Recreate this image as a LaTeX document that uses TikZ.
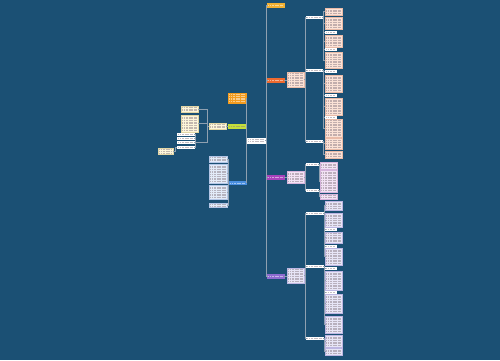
\documentclass[tikz,border=0pt]{standalone}
\usetikzlibrary{calc}
\definecolor{bg}{HTML}{1B5074}
\definecolor{lc}{HTML}{8FA0B0}
\definecolor{pinkf}{HTML}{FBE2D6}
\definecolor{pinkd}{HTML}{E9BBA8}
\definecolor{purf}{HTML}{F2E2F4}
\definecolor{purd}{HTML}{D6B4DC}
\definecolor{lavf}{HTML}{E7E5F6}
\definecolor{lavd}{HTML}{BDB6E2}
\definecolor{bluf}{HTML}{E3EBF8}
\definecolor{blud}{HTML}{B4C6E6}
\definecolor{crf}{HTML}{FDF6DA}
\definecolor{crd}{HTML}{E3D7A6}
\definecolor{txd}{HTML}{8A7C86}
\definecolor{cY}{HTML}{F2B134}
\definecolor{cO}{HTML}{EE6A2F}
\definecolor{cP}{HTML}{A843BC}
\definecolor{cL}{HTML}{8E6CD0}
\definecolor{cOR}{HTML}{F39C1F}
\definecolor{cG}{HTML}{C5DE3A}
\definecolor{cB}{HTML}{4A8FE0}
\tikzset{
  box/.style={rectangle, inner sep=0pt, outer sep=0pt, line width=0.3pt},
  pinkleaf/.style={box, fill=pinkf, draw=pinkd},
  purleaf/.style={box, fill=purf, draw=purd},
  lavleaf/.style={box, fill=lavf, draw=lavd},
  bluleaf/.style={box, fill=bluf, draw=blud},
  creamleaf/.style={box, fill=crf, draw=crd},
  whitelabel/.style={box, fill=white, draw=white},
  colnode/.style={box, fill=#1, draw=#1},
  tline/.style={line width=0.4pt, opacity=0.5, line cap=butt,
    dash pattern=on 1.1pt off 0.4pt on 1.6pt off 0.5pt on 0.8pt off 0.4pt on 1.3pt off 0.5pt},
  conn/.style={line width=0.55pt, draw=lc},
}
% name, x1, y1, x2, y2, style, text colour
\newcommand\bx[7]{%
  \node[#6, anchor=north west, minimum width={(#4-#2)*1pt}, minimum height={(#5-#3)*1pt}] (#1) at (#2,#3) {};
  \pgfmathtruncatemacro\bxn{max(1,floor((#5-#3-0.8)/1.7))}%
  \pgfmathsetmacro\bxg{(#5-#3)/(\bxn+1)}%
  \foreach \i in {1,...,\bxn}{\draw[tline,draw=#7] ($(#1.north west)+(1.2,\i*\bxg)$) -- ($(#1.north east)+(-1.2,\i*\bxg)$);}%
}
\begin{document}
\begin{tikzpicture}[x=1pt,y=-1pt]
\fill[bg] (0,0) rectangle (500,360);
\useasboundingbox (0,0) rectangle (500,360);

% central node
\bx{C}{247}{138}{265}{143}{whitelabel}{txd}

% right branches
\bx{Y1}{267}{3}{284}{7}{colnode=cY}{white}
\bx{O}{267}{78}{284}{82}{colnode=cO}{white}
\bx{P}{267}{175}{284}{179}{colnode=cP}{white}
\bx{L}{267}{274}{284}{278}{colnode=cL}{white}

% orange branch
\bx{OP}{287}{72}{304}{87}{pinkleaf}{txd}
\bx{OL1}{306}{16.5}{322}{18.5}{whitelabel}{txd}
\bx{OL2}{306}{69.5}{322}{71.5}{whitelabel}{txd}
\bx{OL3}{306}{140.5}{322}{142.5}{whitelabel}{txd}
\bx{o1}{325}{8}{342}{15}{pinkleaf}{txd}
\bx{o2}{325}{17}{342}{29}{pinkleaf}{txd}
\bx{o3}{325}{31}{336}{33}{whitelabel}{txd}
\bx{o4}{325}{35}{342}{47}{pinkleaf}{txd}
\bx{o5}{325}{48.5}{336}{50.5}{whitelabel}{txd}
\bx{o6}{325}{52}{342}{68}{pinkleaf}{txd}
\bx{o7}{325}{70.5}{336}{72.5}{whitelabel}{txd}
\bx{o8}{325}{75}{342}{92}{pinkleaf}{txd}
\bx{o9}{325}{94.5}{336}{96.5}{whitelabel}{txd}
\bx{o10}{325}{98}{342}{115}{pinkleaf}{txd}
\bx{o11}{325}{116}{336}{118}{whitelabel}{txd}
\bx{o12}{325}{119}{342}{137}{pinkleaf}{txd}
\bx{o13}{325}{138.5}{342}{149}{pinkleaf}{txd}
\bx{o14}{325}{151}{342}{158}{pinkleaf}{txd}

% purple branch
\bx{PP}{287}{171}{304}{183}{purleaf}{txd}
\bx{PL1}{306}{163.5}{318}{165.5}{whitelabel}{txd}
\bx{PL2}{306}{189}{318}{191}{whitelabel}{txd}
\bx{p1}{320}{162}{337}{169}{purleaf}{txd}
\bx{p2}{320}{170}{337}{192}{purleaf}{txd}
\bx{p3}{320}{194}{337}{199}{purleaf}{txd}

% lavender branch
\bx{LP}{287}{268}{304}{283}{lavleaf}{txd}
\bx{LL1}{306}{212}{323}{214}{whitelabel}{txd}
\bx{LL2}{306}{265.5}{323}{267.5}{whitelabel}{txd}
\bx{LL3}{306}{337}{323}{339}{whitelabel}{txd}
\bx{l1}{325}{201}{342}{210}{lavleaf}{txd}
\bx{l2}{325}{213}{342}{227}{lavleaf}{txd}
\bx{l3}{325}{228.5}{336}{230.5}{whitelabel}{txd}
\bx{l4}{325}{232}{342}{243}{lavleaf}{txd}
\bx{l5}{325}{245}{336}{247}{whitelabel}{txd}
\bx{l6}{325}{248}{342}{265}{lavleaf}{txd}
\bx{l7}{325}{267}{336}{269}{whitelabel}{txd}
\bx{l8}{325}{271}{342}{290}{lavleaf}{txd}
\bx{l9}{325}{291}{336}{293}{whitelabel}{txd}
\bx{l10}{325}{294}{342}{313}{lavleaf}{txd}
\bx{l11}{325}{316}{342}{333}{lavleaf}{txd}
\bx{l12}{325}{335}{342}{347}{lavleaf}{txd}
\bx{l13}{325}{348}{342}{355}{lavleaf}{txd}

% left branches
\bx{OR}{228}{93}{246}{103}{colnode=cOR}{white}
\bx{G}{228}{124}{246}{128}{colnode=cG}{txd}
\bx{B}{229}{181}{246}{184.5}{colnode=cB}{white}

% green branch
\bx{GW}{209}{123}{226}{129}{creamleaf}{txd}
\bx{cr1}{181}{106}{198}{112}{creamleaf}{txd}
\bx{cr2}{181}{115}{198}{132}{creamleaf}{txd}
\bx{W1}{177}{133.5}{194}{135.5}{whitelabel}{txd}
\bx{W2}{177}{137.5}{194}{139.5}{whitelabel}{txd}
\bx{W3}{177}{141.5}{194}{143.5}{whitelabel}{txd}
\bx{W4}{177}{146.5}{194}{148.5}{whitelabel}{txd}
\bx{CL}{158}{148}{173}{154.5}{creamleaf}{txd}

% blue branch
\bx{BW1}{209}{156}{227}{162}{bluleaf}{txd}
\bx{BW2}{209}{164}{227}{183}{bluleaf}{txd}
\bx{BW3}{209}{185}{227}{199}{bluleaf}{txd}
\bx{BW4}{209}{203}{227}{207.5}{bluleaf}{txd}

% ---------- connectors ----------
\foreach \b in {Y1,O,P,L} \draw[conn] (C.east) -- ++(1.5,0) |- (\b.west);
\foreach \b in {OR,G,B} \draw[conn] (C.west) -- ++(-0.7,0) |- (\b.east);

\draw[conn] (O.east) -- (O.east -| OP.west);
\foreach \b in {OL1,OL2,OL3} \draw[conn] (OP.east) -- ++(1.5,0) |- (\b.west);
\foreach \b in {o1,o2,o3,o4,o5,o6} \draw[conn] (OL1.east) -- ++(1.5,0) |- (\b.west);
\foreach \b in {o7,o8,o9,o10,o11,o12} \draw[conn] (OL2.east) -- ++(1.5,0) |- (\b.west);
\foreach \b in {o13,o14} \draw[conn] (OL3.east) -- ++(1.5,0) |- (\b.west);

\draw[conn] (P.east) -- (P.east -| PP.west);
\foreach \b in {PL1,PL2} \draw[conn] (PP.east) -- ++(1.2,0) |- (\b.west);
\foreach \b in {p1,p2} \draw[conn] (PL1.east) -- ++(1,0) |- (\b.west);
\draw[conn] (PL2.east) -- ++(1,0) |- (p3.west);

\draw[conn] (L.east) -- (L.east -| LP.west);
\foreach \b in {LL1,LL2,LL3} \draw[conn] (LP.east) -- ++(1.5,0) |- (\b.west);
\foreach \b in {l1,l2,l3,l4,l5,l6} \draw[conn] (LL1.east) -- ++(1.5,0) |- (\b.west);
\foreach \b in {l7,l8,l9,l10,l11} \draw[conn] (LL2.east) -- ++(1.5,0) |- (\b.west);
\foreach \b in {l12,l13} \draw[conn] (LL3.east) -- ++(1.5,0) |- (\b.west);

\draw[conn] (G.west) -- (G.west -| GW.east);
\foreach \b in {cr1,cr2,W3} \draw[conn] (GW.west) -- ++(-1.5,0) |- (\b.east);
\foreach \b in {W1,W2,W4} \draw[conn] (W3.east) -- ++(1.5,0) |- (\b.east);
\draw[conn] (W4.west) -- ++(-1.5,0) |- (CL.east);

\foreach \b in {BW1,BW2,BW3,BW4} \draw[conn] (B.west) -- ++(-1,0) |- (\b.east);
\end{tikzpicture}
\end{document}
